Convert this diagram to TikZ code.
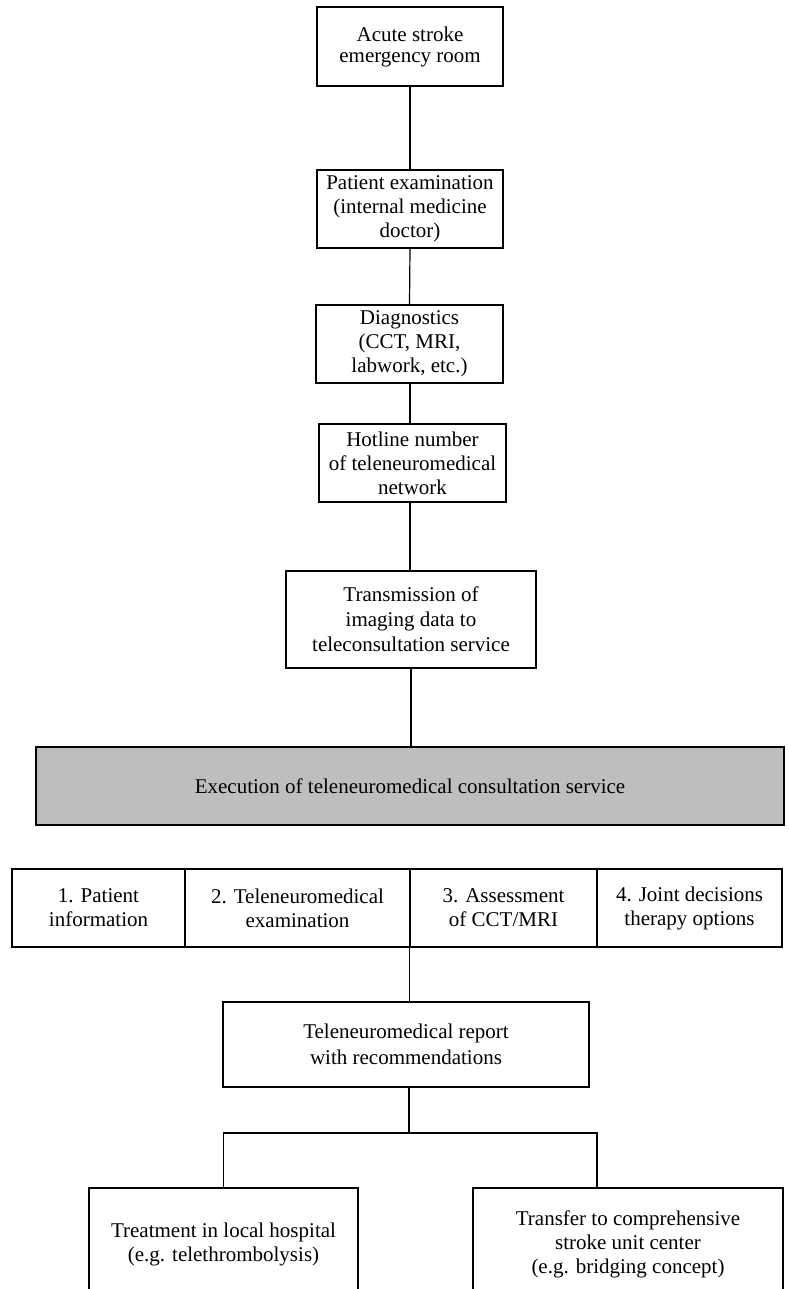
\documentclass[tikz,border=0pt]{standalone}
\usepackage{fontspec}
\setmainfont{Liberation Serif}
\usepackage{tikz}
\usetikzlibrary{positioning}
\definecolor{execgray}{HTML}{BEBEBE}

\begin{document}
\begin{tikzpicture}[x=1pt, y=-1pt,
    box/.style={draw, line width=1.2pt, align=center, inner sep=0pt,
      font=\fontsize{21}{24}\selectfont},
    execbox/.style={box, fill=execgray},
    link/.style={line width=1.2pt}]
  \clip (0,0) rectangle (788,1289);

  % ── Emergency room chain ──
  \node[box, minimum width=186pt, minimum height=79pt,
    font=\fontsize{21}{21}\selectfont] (acute) at (410,46.5)
    {Acute stroke\\emergency room};
  \node[box, minimum width=186pt, minimum height=78pt] (exam) at (410,209)
    {Patient examination\\(internal medicine\\doctor)};
  \node[box, minimum width=187pt, minimum height=78pt] (diag) at (409.5,344)
    {Diagnostics\\(CCT, MRI,\\labwork, etc.)};
  \node[box, minimum width=187pt, minimum height=78pt] (hotline) at (412.5,463)
    {Hotline number\\of teleneuromedical\\network};
  \node[box, minimum width=250pt, minimum height=97pt,
    font=\fontsize{21}{25}\selectfont] (transmit) at (411,619.5)
    {Transmission of\\imaging data to\\teleconsultation service};

  % ── Consultation service ──
  \node[execbox, minimum width=748pt, minimum height=78pt] (exec) at (410,786)
    {Execution of teleneuromedical consultation service};

  % Service steps
  \node[box, minimum width=173pt, minimum height=78pt] (step1) at (98.5,908)
    {1. Patient\\information};
  \node[box, minimum width=225pt, minimum height=78pt] (step2) at (297.5,908)
    {2. Teleneuromedical\\examination};
  \node[box, minimum width=187pt, minimum height=78pt] (step3) at (503.5,908)
    {3. Assessment\\of CCT/MRI};
  \node[box, minimum width=185pt, minimum height=78pt] (step4) at (689.5,908)
    {4. Joint decisions\\therapy options};

  % ── Report and outcome ──
  \node[box, minimum width=366pt, minimum height=85pt,
    font=\fontsize{21}{26}\selectfont] (report) at (406,1044.5)
    {Teleneuromedical report\\with recommendations};
  \node[box, minimum width=269pt, minimum height=112pt] (local) at (223.5,1244)
    {Treatment in local hospital\\(e.g. telethrombolysis)};
  \node[box, minimum width=310pt, minimum height=112pt] (transfer) at (628,1244)
    {Transfer to comprehensive\\stroke unit center\\(e.g. bridging concept)};

  % Connectors
  \draw[link] (acute.south) -- (exam.north);
  \draw[link] (exam.south) -- (diag.north);
  \draw[link] (410,383) coordinate (d0) -- (d0 |- hotline.north);
  \draw[link] (410,502) coordinate (h0) -- (h0 |- transmit.north);
  \draw[link] (transmit.south) -- (transmit.south |- exec.north);
  \draw[link] (step3.south west) -- (step3.south west |- report.north);
  \coordinate (fork) at (409,1133);
  \draw[link] (report.south -| fork) -- (fork);
  \draw[link] (local.north) |- (fork);
  \draw[link] (597,1188) coordinate (t0) |- (fork);
\end{tikzpicture}
\end{document}
